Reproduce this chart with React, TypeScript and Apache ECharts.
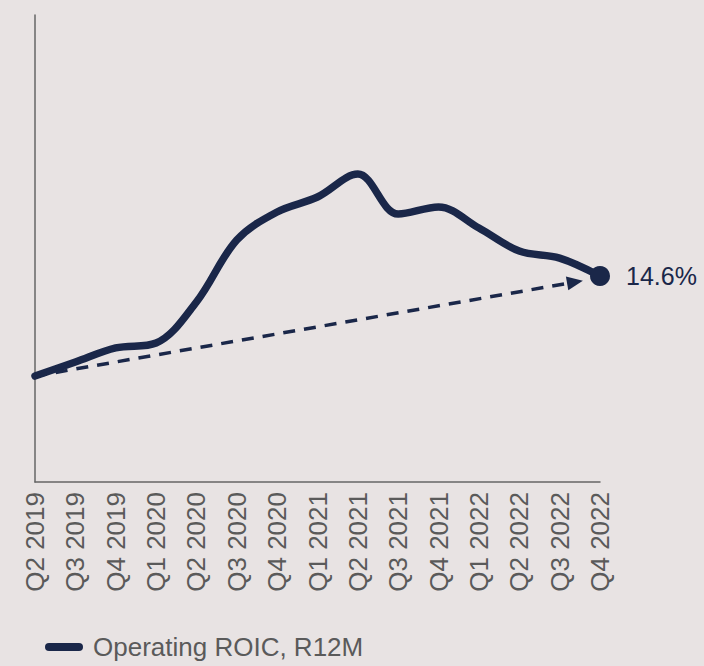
import React, { useEffect, useRef } from "react";
import * as echarts from "echarts";

const categories = [
  "Q2 2019", "Q3 2019", "Q4 2019", "Q1 2020", "Q2 2020", "Q3 2020", "Q4 2020", "Q1 2021",
  "Q2 2021", "Q3 2021", "Q4 2021", "Q1 2022", "Q2 2022", "Q3 2022", "Q4 2022",
];
const roic = [7.51, 8.5, 9.5, 9.85, 12.76, 17.15, 19.14, 20.2, 21.83, 18.99, 19.49, 18.0, 16.37, 15.87, 14.6];
const seriesName = "Operating ROIC, R12M";
const endLabel = "14.6%";
const trendStart = [0, 7.51];
const trendEnd = [13.38, 14.17];

const NAVY = "#1a2749";
const GREY = "#5a5a5a";

export default function App() {
  const ref = useRef<HTMLDivElement>(null);
  useEffect(() => {
    if (!ref.current) return;
    const chart = echarts.init(ref.current, undefined, { renderer: "svg" });
    const last = roic.length - 1;
    chart.setOption({
      animation: false,
      backgroundColor: "#e8e3e3",
      grid: { left: 35, right: 104, top: 15, bottom: 184 },
      legend: {
        data: [seriesName],
        left: 45,
        top: 634,
        itemWidth: 38,
        itemHeight: 8,
        itemGap: 10,
        padding: 0,
        icon: "path://M4,0 H34 A4,4 0 0 1 34,8 H4 A4,4 0 0 1 4,0 Z",
        textStyle: {
          color: GREY,
          fontSize: 26,
          fontFamily: "Liberation Sans, Arial, sans-serif",
          padding: [0, 0, 0, 5],
        },
      },
      xAxis: [
        {
          type: "category",
          data: categories,
          boundaryGap: false,
          axisLine: { lineStyle: { color: "#666666", width: 1.5 } },
          axisTick: { show: false },
          axisLabel: {
            rotate: 90,
            margin: 10,
            color: GREY,
            fontSize: 26,
            fontFamily: "Liberation Sans, Arial, sans-serif",
            interval: 0,
          },
        },
        { type: "value", min: 0, max: categories.length - 1, show: false },
      ],
      yAxis: {
        type: "value",
        min: 0,
        max: 33.1,
        axisLine: { show: true, lineStyle: { color: "#666666", width: 1.5 } },
        axisTick: { show: false },
        axisLabel: { show: false },
        splitLine: { show: false },
      },
      series: [
        {
          name: "trend",
          type: "line",
          xAxisIndex: 1,
          data: [],
          markLine: {
            silent: true,
            symbol: ["none", "triangle"],
            symbolSize: [14, 16],
            label: { show: false },
            lineStyle: { color: NAVY, width: 3.5, type: [12, 9] },
            data: [[{ coord: trendStart }, { coord: trendEnd }]],
          },
        },
        {
          name: seriesName,
          type: "line",
          smooth: 0.35,
          symbol: "none",
          lineStyle: { color: NAVY, width: 7.5, cap: "round", join: "round" },
          itemStyle: { color: NAVY },
          data: roic.map((v, i) =>
            i === last
              ? {
                  value: v,
                  symbol: "circle",
                  symbolSize: 20,
                  label: {
                    show: true,
                    position: "right",
                    distance: 16,
                    formatter: endLabel,
                    color: NAVY,
                    fontSize: 25,
                    fontFamily: "Liberation Sans, Arial, sans-serif",
                  },
                }
              : v
          ),
          z: 3,
        },
      ],
    });
    return () => chart.dispose();
  }, []);
  return <div ref={ref} style={{ width: 704, height: 666, position: "absolute", left: 0, top: 0 }} />;
}
